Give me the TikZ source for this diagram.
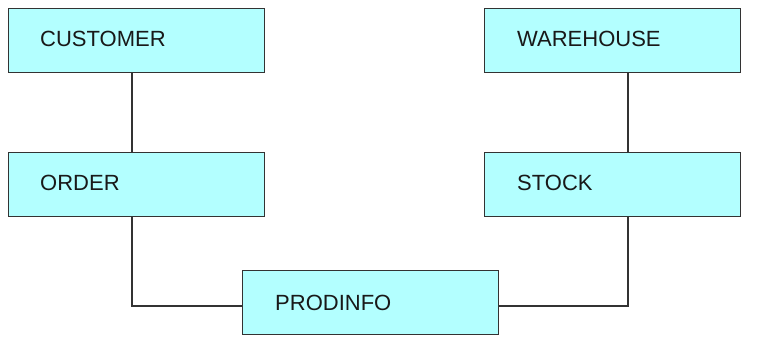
\documentclass[tikz,border=0pt]{standalone}
\usepackage{fontspec}
\setmainfont{Liberation Sans}
\definecolor{boxfill}{HTML}{B3FFFF}
\definecolor{edge}{HTML}{333333}
\begin{document}
\begin{tikzpicture}[x=1pt,y=-1pt,
  ent/.style={draw=edge, line width=1.4pt, fill=boxfill, minimum width=256pt, minimum height=64pt, inner sep=0pt, anchor=north west},
  lbl/.style={anchor=west, inner sep=0pt, font=\fontsize{22}{26}\selectfont, text=black!90},
  conn/.style={draw=edge, line width=1.4pt}]
\useasboundingbox (0,0) rectangle (775,351);
\node[ent] (customer) at (8,8) {};
\node[ent] (warehouse) at (484,8) {};
\node[ent] (order) at (8,152) {};
\node[ent] (stock) at (484,152) {};
\node[ent] (prodinfo) at (242,270) {};
\node[lbl] at ([xshift=32pt,yshift=2pt]customer.west) {CUSTOMER};
\node[lbl] at ([xshift=33pt,yshift=2pt]warehouse.west) {WAREHOUSE};
\node[lbl] at ([xshift=32pt,yshift=2pt]order.west) {ORDER};
\node[lbl] at ([xshift=33pt,yshift=2pt]stock.west) {STOCK};
\node[lbl] at ([xshift=33pt,yshift=0pt]prodinfo.west) {PRODINFO};
\coordinate (lc) at (132,306);
\coordinate (rc) at (628,306);
\path[conn] (customer.south -| lc) -- (order.north -| lc);
\path[conn] (warehouse.south -| rc) -- (stock.north -| rc);
\path[conn] (order.south -| lc) -- (lc) -- (prodinfo.west |- lc);
\path[conn] (prodinfo.east |- rc) -- (rc) -- (stock.south -| rc);
\end{tikzpicture}
\end{document}
